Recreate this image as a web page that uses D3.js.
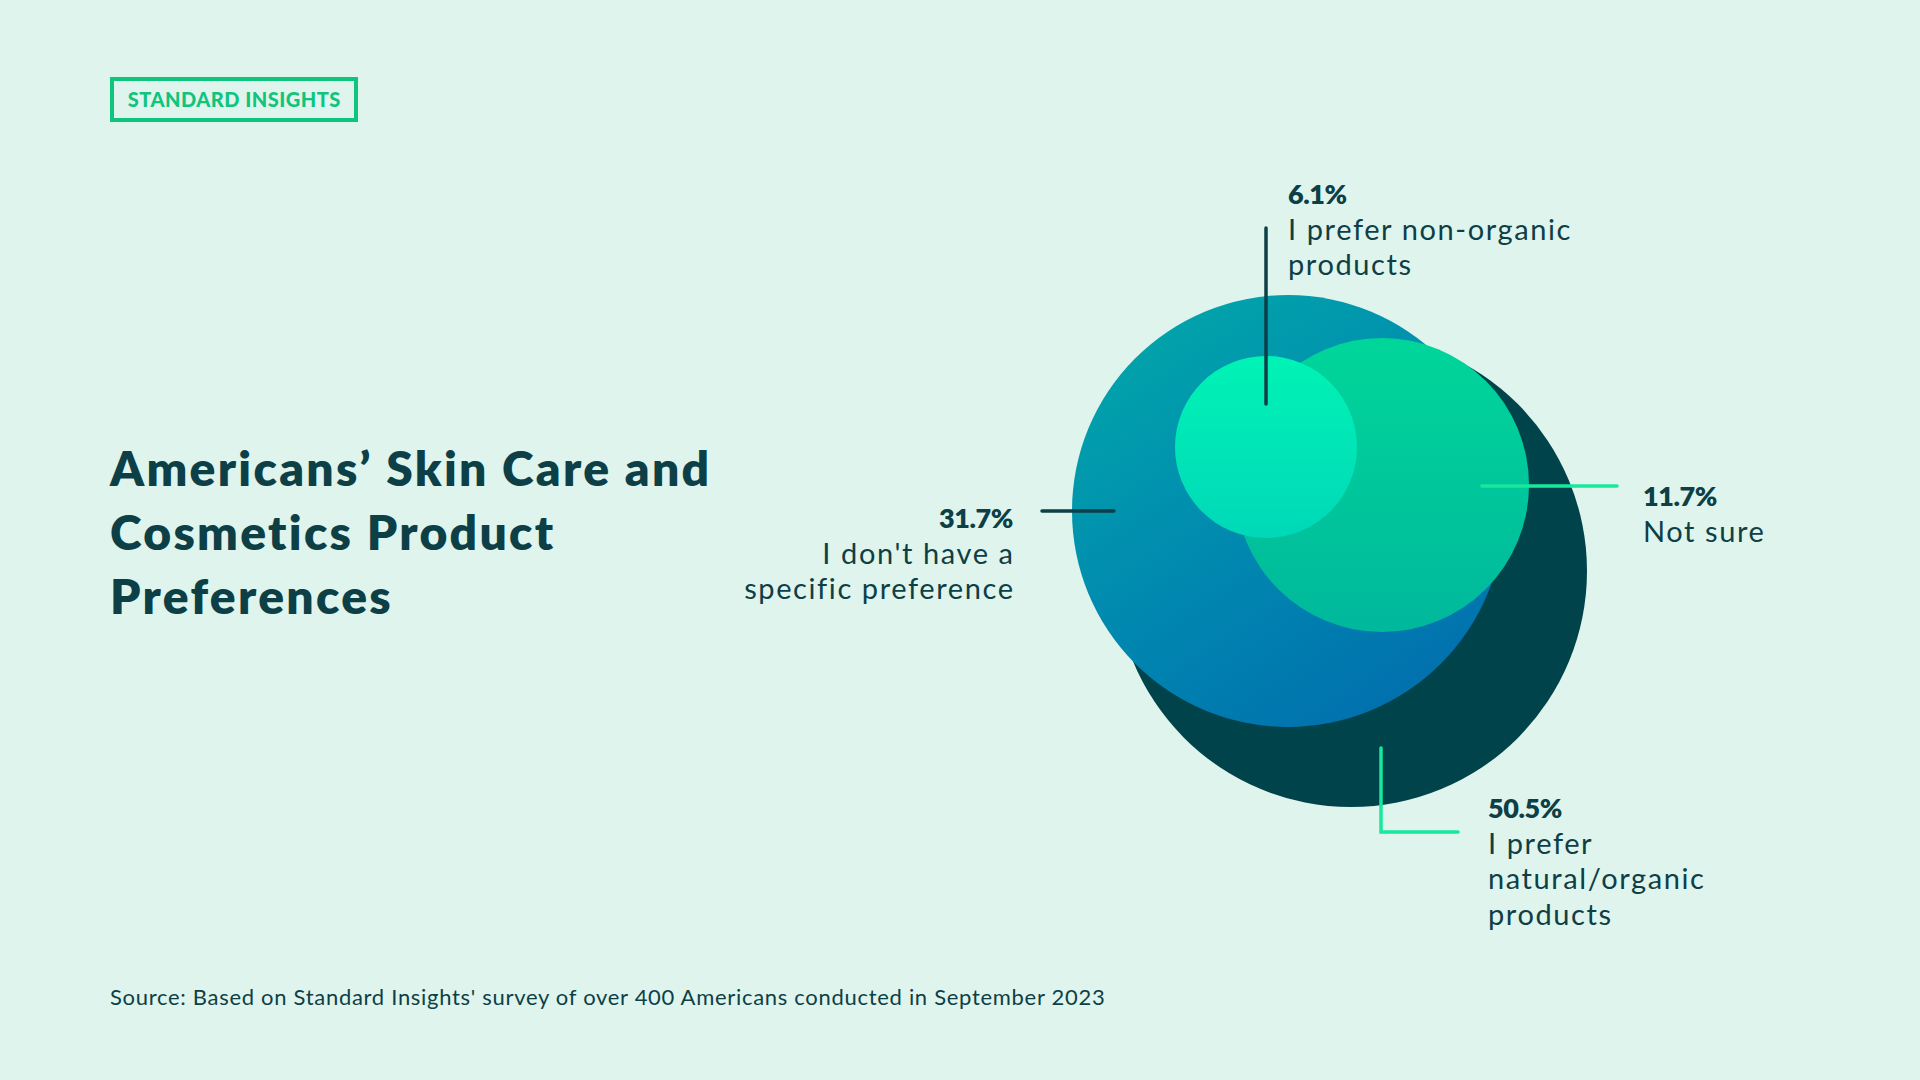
<!DOCTYPE html>
<html>
<head>
<meta charset="utf-8">
<script src="https://cdn.jsdelivr.net/npm/d3@7"></script>
<style>
  html, body { margin: 0; padding: 0; background: #dff4ec; }
  svg { display: block; }
</style>
</head>
<body>
<svg id="chart" width="1920" height="1080"></svg>
<script>
// ---------------- DATA ----------------
const categories = [
  "I prefer natural/organic products",
  "I don't have a specific preference",
  "Not sure",
  "I prefer non-organic products"
];
const values = [50.5, 31.7, 11.7, 6.1];
const labelLines = [
  ["I prefer", "natural/organic", "products"],
  ["I don't have a", "specific preference"],
  ["Not sure"],
  ["I prefer non-organic", "products"]
];
const titleLines = ["Americans’ Skin Care and", "Cosmetics Product", "Preferences"];
const brand = "STANDARD INSIGHTS";
const sourceText = "Source: Based on Standard Insights' survey of over 400 Americans conducted in September 2023";

// ---------------- LAYOUT / STYLE ----------------
const W = 1920, H = 1080;
const ink = "#0d3f47";
const origin = { x: 1351, y: 571 };           // centre of the largest bubble
const radiusStops = [91, 147, 216, 236];      // visual radius for sorted values
const offsets = [                              // bubble centre offsets from origin
  { dx: 0, dy: 0 }, { dx: -63, dy: -60 }, { dx: 31, dy: -86 }, { dx: -85, dy: -124 }
];
const fills = ["url(#gDark)", "url(#gBlue)", "url(#gGreen)", "url(#gLight)"];
const leaderColor = ["#17e89c", ink, "#17e89c", ink];
// leader paths relative to origin
const leaders = [
  [[30, 177], [30, 261], [107, 261]],
  [[-309, -60], [-237, -60]],
  [[131, -85], [266, -85]],
  [[-85, -343], [-85, -167]]
];
// label anchor relative to origin, text-anchor
const labelPos = [
  { dx: 137, dy: 247, anchor: "start" },
  { dx: -338, dy: -43, anchor: "end" },
  { dx: 292, dy: -65, anchor: "start" },
  { dx: -63, dy: -367, anchor: "start" }
];

const svg = d3.select("#chart");
svg.append("rect").attr("width", W).attr("height", H).attr("fill", "#dff4ec");

// gradients
const defs = svg.append("defs");
function lg(id, x1, y1, x2, y2, stops) {
  const g = defs.append("linearGradient").attr("id", id)
    .attr("x1", x1).attr("y1", y1).attr("x2", x2).attr("y2", y2);
  stops.forEach(s => g.append("stop").attr("offset", s[0]).attr("stop-color", s[1]));
}
lg("gDark", 0, 0, 0, 1, [[0, "#00444b"], [1, "#00434a"]]);
lg("gBlue", 0.15, 0.1, 0.7, 0.95, [[0, "#01a3ab"], [0.55, "#0087b0"], [1, "#0172ae"]]);
lg("gGreen", 0, 0, 0, 1, [[0, "#00d69a"], [1, "#00b89c"]]);
lg("gLight", 0, 0, 0, 1, [[0, "#00f3b5"], [1, "#00d8b8"]]);

// scales
const sortedVals = values.slice().sort((a, b) => a - b);
const rScale = d3.scaleLinear().domain(sortedVals).range(radiusStops);
const xScale = d3.scaleLinear().domain([0, 1]).range([origin.x, origin.x + 1]);
const yScale = d3.scaleLinear().domain([0, 1]).range([origin.y, origin.y + 1]);

const data = categories.map((c, i) => ({
  category: c, value: values[i], lines: labelLines[i], i
}));

// bubbles (largest first so smaller sit on top)
svg.append("g").selectAll("circle")
  .data(data)
  .join("circle")
  .attr("cx", d => xScale(offsets[d.i].dx))
  .attr("cy", d => yScale(offsets[d.i].dy))
  .attr("r", d => rScale(d.value))
  .attr("fill", d => fills[d.i]);

// leaders
const line = d3.line().x(p => xScale(p[0])).y(p => yScale(p[1]));
svg.append("g").selectAll("path")
  .data(data)
  .join("path")
  .attr("d", d => line(leaders[d.i]))
  .attr("fill", "none")
  .attr("stroke", d => leaderColor[d.i])
  .attr("stroke-width", 3.5)
  .attr("stroke-linecap", "round")
  .attr("stroke-linejoin", "miter");

// labels
const fmt = d3.format(".1f");
const lab = svg.append("g").selectAll("text")
  .data(data)
  .join("text")
  .attr("x", d => xScale(labelPos[d.i].dx))
  .attr("y", d => yScale(labelPos[d.i].dy))
  .attr("text-anchor", d => labelPos[d.i].anchor)
  .attr("fill", ink)
  .style("font-family", "Lato, 'Open Sans', sans-serif");
lab.append("tspan")
  .attr("x", d => xScale(labelPos[d.i].dx))
  .style("font-weight", 800)
  .style("font-size", "27px")
  .style("letter-spacing", "-0.4px")
  .text(d => fmt(d.value) + "%");
lab.each(function (d) {
  const t = d3.select(this);
  d.lines.forEach(l => {
    t.append("tspan")
      .attr("x", xScale(labelPos[d.i].dx) + (labelPos[d.i].anchor === "end" ? 1.6 : 0))
      .attr("dy", 35.5)
      .style("font-size", "29px")
      .style("font-weight", 400)
      .style("letter-spacing", "1.6px")
      .text(l);
  });
});

// brand box
svg.append("rect")
  .attr("x", 112).attr("y", 79).attr("width", 244).attr("height", 41)
  .attr("fill", "none").attr("stroke", "#0fc47c").attr("stroke-width", 4);
svg.append("text")
  .attr("x", 234.3).attr("y", 107)
  .attr("text-anchor", "middle")
  .attr("fill", "#0fc47c")
  .style("font-family", "Lato, sans-serif")
  .style("font-weight", 900)
  .style("font-size", "20px")
  .style("letter-spacing", "0.5px")
  .text(brand);

// title
svg.append("text")
  .attr("fill", ink)
  .style("font-family", "Lato, sans-serif")
  .style("font-weight", 800)
  .style("font-size", "48px")
  .style("letter-spacing", "2.3px")
  .selectAll("tspan")
  .data(titleLines)
  .join("tspan")
  .attr("x", 110)
  .attr("y", (d, i) => 486 + i * 64)
  .text(d => d);

// source
svg.append("text")
  .attr("x", 110).attr("y", 1005)
  .attr("fill", ink)
  .style("font-family", "Lato, sans-serif")
  .style("font-size", "22px")
  .style("letter-spacing", "0.7px")
  .text(sourceText);
</script>
</body>
</html>
